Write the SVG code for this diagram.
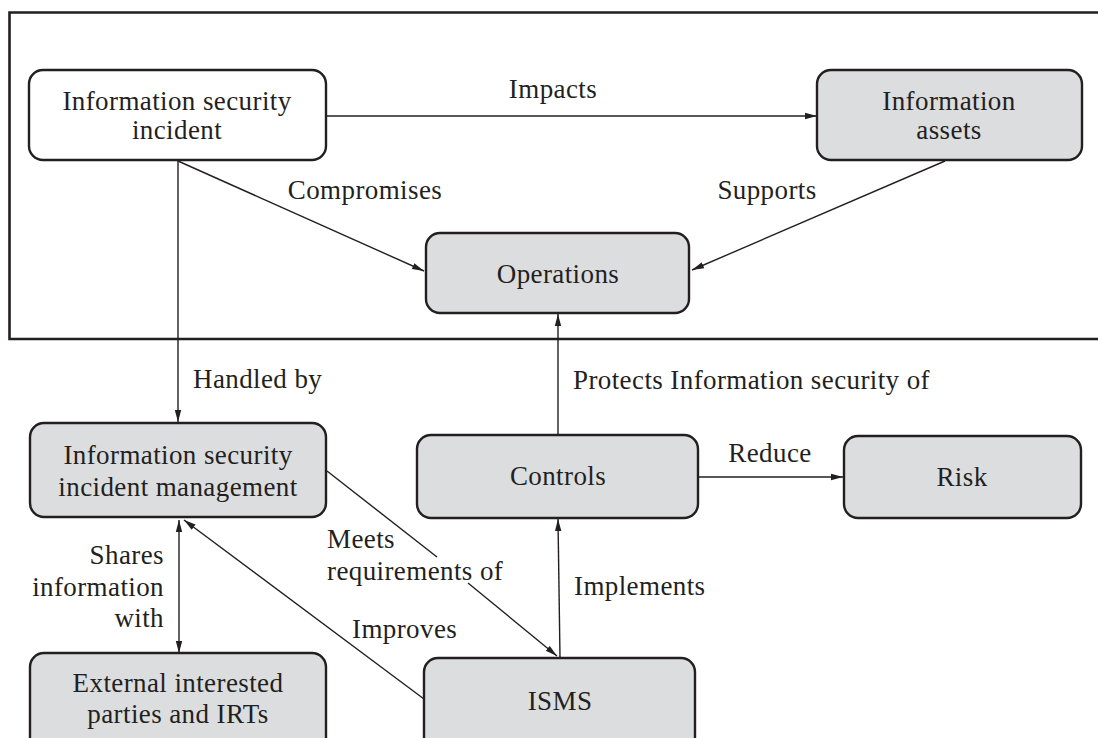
<svg xmlns="http://www.w3.org/2000/svg" width="1098" height="738" viewBox="0 0 1098 738">
  <style>
    text { font-family: "Liberation Serif", "DejaVu Serif", serif; font-size: 27px; fill: #231f20; letter-spacing: 0.4px; }
    .c { text-anchor: middle; }
    .r { text-anchor: end; }
    .box { fill: #dcdddf; stroke: #231f20; stroke-width: 2.4; }
    .wbox { fill: #ffffff; stroke: #231f20; stroke-width: 2.4; }
    .frame { fill: none; stroke: #231f20; stroke-width: 2.6; }
    .ln { fill: none; stroke: #231f20; stroke-width: 1.4; }
  </style>
  <defs>
    <marker id="ah" viewBox="0 0 12 8" refX="12" refY="4" markerWidth="12" markerHeight="8" markerUnits="userSpaceOnUse" orient="auto-start-reverse">
      <path d="M0,0.8 L12,4 L0,7.2 Z" fill="#231f20"/>
    </marker>
  </defs>
  <rect width="1098" height="738" fill="#ffffff"/>
  <path class="frame" d="M1110,12.5 H9.5 V339 H1110"/>

  <g id="connectors">
    <line class="ln" x1="327" y1="116" x2="817" y2="116" marker-end="url(#ah)"/>
    <line class="ln" x1="178" y1="161" x2="424" y2="271" marker-end="url(#ah)"/>
    <line class="ln" x1="945" y1="161" x2="692" y2="270" marker-end="url(#ah)"/>
    <line class="ln" x1="178" y1="161" x2="178" y2="422" marker-end="url(#ah)"/>
    <line class="ln" x1="558" y1="435" x2="558" y2="314" marker-end="url(#ah)"/>
    <line class="ln" x1="697" y1="477" x2="843" y2="477" marker-end="url(#ah)"/>
    <line class="ln" x1="560" y1="658" x2="558" y2="519" marker-end="url(#ah)"/>
    <line class="ln" x1="327" y1="471" x2="437" y2="557"/>
    <line class="ln" x1="468" y1="583" x2="557" y2="656" marker-end="url(#ah)"/>
    <line class="ln" x1="424" y1="699" x2="184" y2="520" marker-end="url(#ah)"/>
    <line class="ln" x1="179" y1="520" x2="179" y2="653" marker-start="url(#ah)" marker-end="url(#ah)"/>
  </g>

  <g id="labels">
    <text class="c" x="553" y="98">Impacts</text>
    <text class="c" x="365" y="199">Compromises</text>
    <text class="c" x="767" y="199">Supports</text>
    <text x="193" y="388">Handled by</text>
    <text x="573" y="389">Protects Information security of</text>
    <text class="c" x="770" y="462">Reduce</text>
    <text x="574" y="595">Implements</text>
    <text x="327" y="548">Meets</text>
    <text x="327" y="580">requirements of</text>
    <text x="352" y="638">Improves</text>
    <text class="r" x="164" y="564">Shares</text>
    <text class="r" x="164" y="596">information</text>
    <text class="r" x="164" y="627">with</text>
  </g>

  <g id="node-incident">
    <rect class="wbox" x="29" y="70" width="297" height="90" rx="14"/>
    <text class="c" x="177" y="110">Information security</text>
    <text class="c" x="177" y="139">incident</text>
  </g>
  <g id="node-assets">
    <rect class="box" x="817" y="70" width="265" height="90" rx="14"/>
    <text class="c" x="949" y="110">Information</text>
    <text class="c" x="949" y="139">assets</text>
  </g>
  <g id="node-operations">
    <rect class="box" x="426" y="233" width="263" height="80" rx="14"/>
    <text class="c" x="558" y="283">Operations</text>
  </g>
  <g id="node-isim">
    <rect class="box" x="30" y="423" width="296" height="94" rx="14"/>
    <text class="c" x="178" y="464">Information security</text>
    <text class="c" x="178" y="496">incident management</text>
  </g>
  <g id="node-controls">
    <rect class="box" x="417" y="435" width="281" height="83" rx="14"/>
    <text class="c" x="558" y="485">Controls</text>
  </g>
  <g id="node-risk">
    <rect class="box" x="844" y="436" width="237" height="82" rx="14"/>
    <text class="c" x="962" y="486">Risk</text>
  </g>
  <g id="node-external">
    <rect class="box" x="30" y="653" width="296" height="100" rx="14"/>
    <text class="c" x="178" y="692">External interested</text>
    <text class="c" x="178" y="723">parties and IRTs</text>
  </g>
  <g id="node-isms">
    <rect class="box" x="424" y="658" width="271" height="100" rx="14"/>
    <text class="c" x="560" y="710">ISMS</text>
  </g>
</svg>
